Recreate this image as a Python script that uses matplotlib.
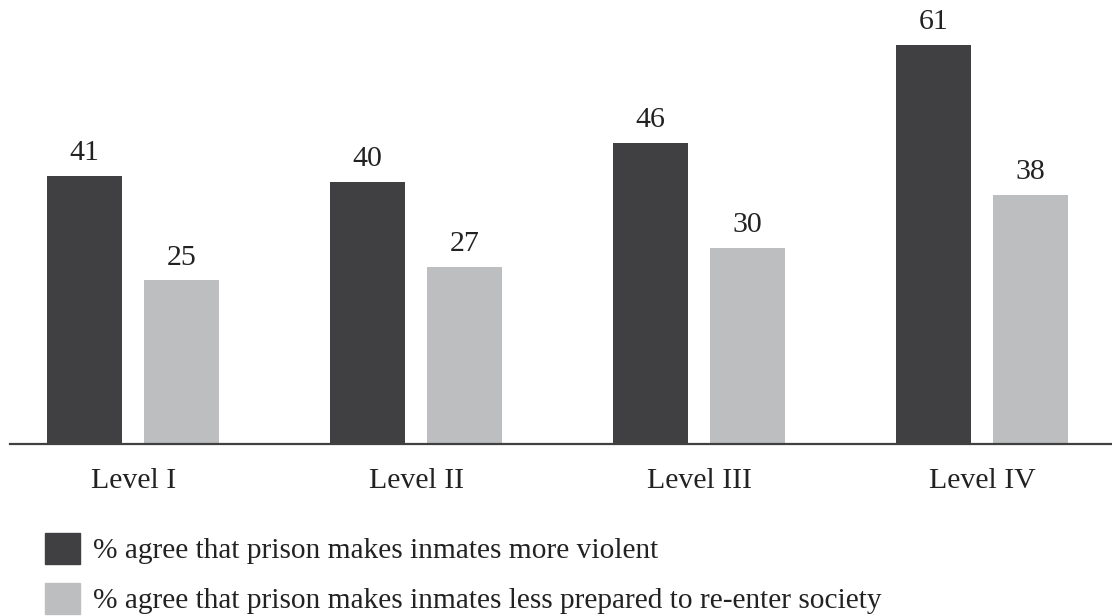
import numpy as np
import matplotlib
matplotlib.use("Agg")
import matplotlib.pyplot as plt
from matplotlib.patches import Patch

# --- Daten ---
levels = ["Level I", "Level II", "Level III", "Level IV"]
more_violent = [41, 40, 46, 61]
less_prepared = [25, 27, 30, 38]
series_labels = [
    "% agree that prison makes inmates more violent",
    "% agree that prison makes inmates less prepared to re-enter society",
]

DARK = "#404042"
LIGHT = "#bdbec0"
TEXT = "#222222"

plt.rcParams['font.family'] = ['Liberation Serif', 'DejaVu Serif']

fig = plt.figure(figsize=(11.12, 6.16), dpi=100)
ax = fig.add_axes([10 / 1112, 172 / 616, 1102 / 1112, 444 / 616])

x = np.arange(len(levels))
width = 0.265
offset = 0.171

b1 = ax.bar(x - offset, more_violent, width, color=DARK)
b2 = ax.bar(x + offset, less_prepared, width, color=LIGHT)

# Werte über die Balken schreiben
for bars in (b1, b2):
    for rect in bars:
        h = rect.get_height()
        ax.annotate(f"{h:.0f}", (rect.get_x() + rect.get_width() / 2, h),
                    xytext=(0, 7), textcoords="offset points",
                    ha="center", va="bottom", fontsize=21.5, color=TEXT)

ax.set_xlim(-0.435, 3.459)
ax.set_ylim(0, 67.8)
ax.set_xticks(x)
ax.set_xticklabels(levels, fontsize=21.5, color=TEXT)
ax.tick_params(axis="x", length=0, pad=17)
ax.set_yticks([])
for s in ("top", "right", "left"):
    ax.spines[s].set_visible(False)
ax.spines["bottom"].set_color("#404040")
ax.spines["bottom"].set_linewidth(1.6)

handles = [Patch(color=DARK), Patch(color=LIGHT)]
fig.legend(handles, series_labels, loc="upper left",
           bbox_to_anchor=(33 / 1112, 1 - 521 / 616), frameon=False,
           fontsize=21.2, handlelength=1.2, handleheight=1.25,
           handletextpad=0.45, labelspacing=0.62, borderaxespad=0,
           labelcolor=TEXT)

fig.savefig("out.png", dpi=100)
